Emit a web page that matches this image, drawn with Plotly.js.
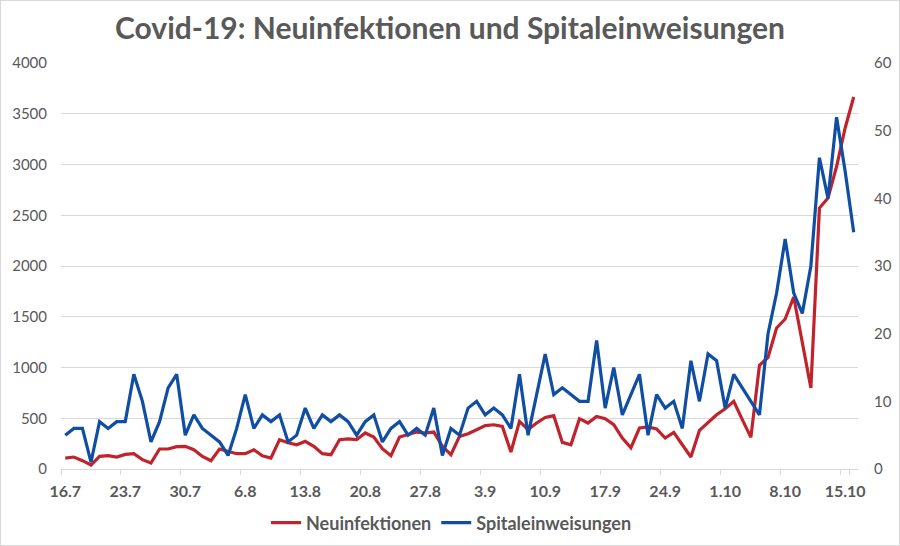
<!DOCTYPE html>
<html>
<head>
<meta charset="utf-8">
<script src="https://cdn.plot.ly/plotly-3.0.1.min.js"></script>
<style>
  html, body { margin: 0; padding: 0; background: #fff; }
  #wrap { position: relative; width: 900px; height: 546px; }
  #chart { width: 900px; height: 546px; }
  #frame { position: absolute; left: 0; top: 0; width: 900px; height: 546px; box-sizing: border-box; border: 1px solid #d9d9d9; pointer-events: none; }
</style>
</head>
<body>
<div id="wrap"><div id="chart"></div><div id="frame"></div></div>
<script>
const dates = [
  "16.7","17.7","18.7","19.7","20.7","21.7","22.7","23.7","24.7","25.7","26.7","27.7","28.7","29.7","30.7","31.7",
  "1.8","2.8","3.8","4.8","5.8","6.8","7.8","8.8","9.8","10.8","11.8","12.8","13.8","14.8","15.8","16.8","17.8","18.8","19.8","20.8","21.8","22.8","23.8","24.8","25.8","26.8","27.8","28.8","29.8","30.8","31.8",
  "1.9","2.9","3.9","4.9","5.9","6.9","7.9","8.9","9.9","10.9","11.9","12.9","13.9","14.9","15.9","16.9","17.9","18.9","19.9","20.9","21.9","22.9","23.9","24.9","25.9","26.9","27.9","28.9","29.9","30.9",
  "1.10","2.10","3.10","4.10","5.10","6.10","7.10","8.10","9.10","10.10","11.10","12.10","13.10","14.10","15.10","16.10"
];
const tickLabels = ["16.7","23.7","30.7","6.8","13.8","20.8","27.8","3.9","10.9","17.9","24.9","1.10","8.10","15.10"];

const neuinfektionen = [
  108,118,82,39,124,131,118,144,151,92,59,197,197,220,223,190,
  124,82,197,173,151,151,190,131,108,289,258,239,272,223,151,141,289,296,289,355,315,200,131,315,338,364,355,364,223,141,321,
  348,387,427,436,420,167,469,387,453,508,525,262,239,496,453,518,496,436,305,210,404,414,394,305,361,239,118,380,453,535,
  594,666,486,312,1021,1100,1389,1478,1695,1250,798,2571,2670,2980,3360,3665
];
const spitaleinweisungen = [
  5,6,6,1,7,6,7,7,14,10,4,7,12,14,5,8,
  6,5,4,2,6,11,6,8,7,8,4,5,9,6,8,7,8,7,5,7,8,4,6,7,5,6,5,9,2,6,5,
  9,10,8,9,8,6,14,5,11,17,11,12,11,10,10,19,9,15,8,11,14,5,11,9,10,6,16,10,17,16,
  9,14,12,10,8,20,26,34,26,23,30,46,40,52,44,35
];

const textCol = "#595959";
const gridCol = "#d9d9d9";

const traces = [
  {
    x: dates, y: neuinfektionen, name: "Neuinfektionen", type: "scatter", mode: "lines",
    line: { color: "#c0232b", width: 3.2 }, yaxis: "y"
  },
  {
    x: dates, y: spitaleinweisungen, name: "Spitaleinweisungen", type: "scatter", mode: "lines",
    line: { color: "#0f4ea3", width: 3.2 }, yaxis: "y2"
  }
];

const layout = {
  width: 900, height: 546,
  margin: { l: 61, r: 42, t: 63, b: 77, autoexpand: false },
  paper_bgcolor: "#ffffff", plot_bgcolor: "#ffffff",
  font: { family: "Lato, 'Open Sans', sans-serif", color: textCol },
  title: {
    text: "<b>Covid-19: Neuinfektionen und Spitaleinweisungen</b>",
    font: { family: "Lato, sans-serif", size: 30, color: textCol },
    x: 0.5, xanchor: "center", y: 0.948, yanchor: "middle"
  },
  showlegend: true,
  legend: {
    orientation: "h", x: 0.49, xanchor: "center", y: -0.133, yanchor: "middle",
    font: { family: "Lato, sans-serif", size: 18, color: textCol, weight: "bold" },
    itemwidth: 30, tracegroupgap: 0
  },
  xaxis: {
    type: "category", categoryorder: "array", categoryarray: dates,
    range: [-0.5, dates.length - 0.5],
    tickmode: "array", tickvals: tickLabels, ticktext: tickLabels.map(t => "<b>" + t + "</b>"),
    tickson: "boundaries", tickangle: 0,
    ticks: "outside", ticklen: 5, tickcolor: gridCol, tickwidth: 1,
    showgrid: false, zeroline: false,
    showline: true, linecolor: gridCol, linewidth: 1,
    tickfont: { family: "Lato, sans-serif", size: 16, color: textCol },
    ticklabelstandoff: 8, automargin: false,
    fixedrange: true
  },
  yaxis: {
    range: [0, 4000], tickmode: "linear", tick0: 0, dtick: 500,
    showgrid: true, gridcolor: gridCol, gridwidth: 1,
    zeroline: false, showline: false, ticks: "",
    tickfont: { family: "Lato, sans-serif", size: 15, color: textCol },
    ticklabelstandoff: 13, automargin: false
  },
  yaxis2: {
    overlaying: "y", side: "right",
    range: [0, 60], tickmode: "linear", tick0: 0, dtick: 10,
    showgrid: false, zeroline: false, showline: false, ticks: "",
    tickfont: { family: "Lato, sans-serif", size: 15, color: textCol },
    ticklabelstandoff: 15, automargin: false
  }
};

Plotly.newPlot("chart", traces, layout, { displayModeBar: false, staticPlot: true });
</script>
</body>
</html>
